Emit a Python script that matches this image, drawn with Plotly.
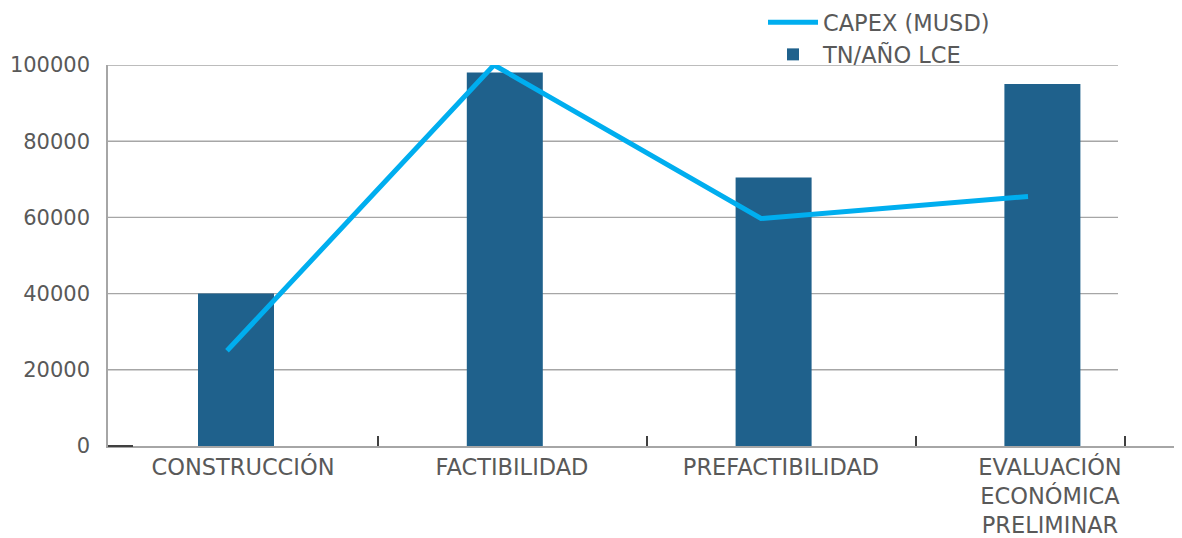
import plotly.graph_objects as go

# ---------------- data ----------------
categories = ["CONSTRUCCIÓN", "FACTIBILIDAD", "PREFACTIBILIDAD", "EVALUACIÓN ECONÓMICA PRELIMINAR"]
tick_labels = ["CONSTRUCCIÓN", "FACTIBILIDAD", "PREFACTIBILIDAD", "EVALUACIÓN<br>ECONÓMICA<br>PRELIMINAR"]
tn_ano_lce = [40000, 98000, 70500, 95000]
capex_musd = [25000, 100000, 59700, 65500]
y_ticks = [0, 20000, 40000, 60000, 80000, 100000]
y_tick_labels = ["0", "20000", "40000", "60000", "80000", "100000"]
line_name = "CAPEX (MUSD)"
bar_name = "TN/AÑO LCE"

# ---------------- layout geometry ----------------
# the page body has an 8px margin, so figure coords = page coords - 8
OFF = 8
W, H = 1182, 538
L_page, R_page, T_page, B_page = 108, 1182, 65, 446
L, T = L_page - OFF, T_page - OFF
R = W - (R_page - OFF)
B = H - (B_page - OFF)
plot_w = W - L - R
plot_h = H - T - B

def cat_range(first_center_px, spacing_px):
    lo = -(first_center_px - L_page) / spacing_px
    return [lo, lo + plot_w / spacing_px]

bar_range = cat_range(236, 268.8)
line_range = cat_range(227, 267)
label_range = cat_range(243, 269)
grid_end = (1118 - L_page) / plot_w

FONT = "DejaVu Sans"
TXT = "#595959"
GRID = "#a6a6a6"
BAR_COLOR = "#1f618c"
LINE_COLOR = "#00aeef"
LABEL_SIZE = 22.5

fig = go.Figure()

fig.add_trace(go.Scatter(
    x=categories, y=capex_musd, name=line_name, mode="lines",
    line=dict(color=LINE_COLOR, width=5), xaxis="x2", yaxis="y",
    legendgroup="a", legendrank=1, hoverinfo="skip",
))
fig.add_trace(go.Bar(
    x=categories, y=tn_ano_lce, name=bar_name, marker=dict(color=BAR_COLOR, line=dict(width=0)),
    width=76 / 268.8, xaxis="x", yaxis="y", legendgroup="b", legendrank=2, hoverinfo="skip",
))
# helper (invisible) trace so the category-label axis is drawn
fig.add_trace(go.Scatter(
    x=list(range(len(categories))), y=[None] * len(categories), xaxis="x3", yaxis="y",
    mode="lines", showlegend=False, hoverinfo="skip",
))

shapes = []
for v in y_ticks[1:]:
    shapes.append(dict(type="line", xref="paper", yref="y", x0=0, x1=grid_end, y0=v, y1=v,
                       line=dict(color=GRID, width=1.4), layer="below"))
# small dark segment at the origin
shapes.append(dict(type="line", xref="paper", yref="paper", x0=0, x1=25 / plot_w, y0=0, y1=0,
                   line=dict(color="#404040", width=2), layer="above"))
# x-axis baseline continues to the right edge of the page
shapes.append(dict(type="line", xref="paper", yref="paper", x0=1, x1=1 + (OFF + 2) / plot_w,
                   y0=0, y1=0, line=dict(color=GRID, width=1.5), layer="above"))

legend_left_page = 763
legend_top_page = 1

fig.update_layout(
    width=W, height=H,
    margin=dict(l=L, r=R, t=T, b=B, autoexpand=False),
    paper_bgcolor="white", plot_bgcolor="white",
    font=dict(family=FONT, color=TXT, size=21),
    showlegend=True,
    legend=dict(x=(legend_left_page - L_page) / plot_w,
                y=1 + (B_page - legend_top_page - plot_h) / plot_h,
                xanchor="left", yanchor="top",
                traceorder="grouped", tracegroupgap=0, itemwidth=50,
                font=dict(family=FONT, size=LABEL_SIZE, color=TXT), bgcolor="rgba(0,0,0,0)"),
    xaxis=dict(type="category", range=bar_range, visible=False, domain=[0, 1], anchor="y"),
    xaxis2=dict(type="category", range=line_range, visible=False, overlaying="x", anchor="y"),
    xaxis3=dict(type="linear", range=label_range, overlaying="x", anchor="y", side="bottom",
                tickmode="array", tickvals=list(range(len(categories))), ticktext=tick_labels,
                ticks="", showline=True, linecolor=GRID, linewidth=1.5, showgrid=False,
                zeroline=False, tickfont=dict(family=FONT, size=LABEL_SIZE, color=TXT),
                minor=dict(tickmode="array", tickvals=[0.5, 1.5, 2.5, (1125 - 243) / 269],
                           ticks="inside", ticklen=10, tickwidth=1.5, tickcolor="#404040",
                           showgrid=False)),
    yaxis=dict(range=[0, 100000], tickmode="array", tickvals=y_ticks, ticktext=y_tick_labels,
               ticks="", showline=True, linecolor=GRID, linewidth=1.5, showgrid=False,
               zeroline=False, ticklabelstandoff=12,
               tickfont=dict(family=FONT, size=21, color=TXT)),
    shapes=shapes,
    hovermode=False,
)

fig.write_html("out.html")
